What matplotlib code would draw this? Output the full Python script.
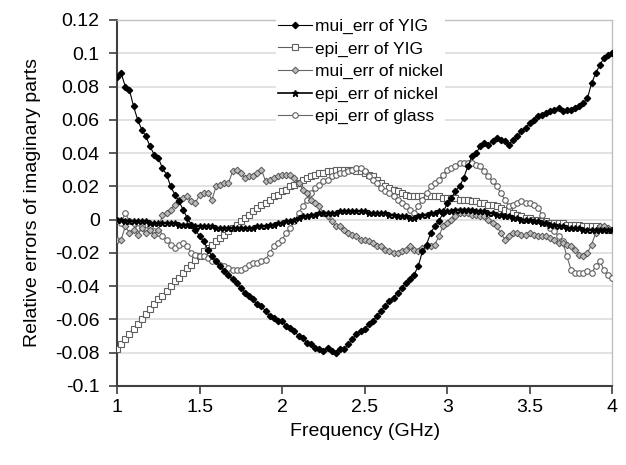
"""Relative errors of imaginary parts vs frequency"""
import numpy as np
import matplotlib
matplotlib.use("Agg")
import matplotlib.pyplot as plt

plt.rcParams['font.family'] = ['Liberation Sans', 'DejaVu Sans']

# frequency samples, 1 to 4 GHz in 0.025 GHz steps
freq = np.round(np.arange(121) * 0.025 + 1.0, 3)

mui_yig = [
    0.086, 0.088, 0.080, 0.078, 0.068, 0.060, 0.054, 0.050, 0.044, 0.039,
    0.037, 0.031, 0.027, 0.020, 0.015, 0.011, 0.006, 0.001, -0.003, -0.006,
    -0.010, -0.013, -0.018, -0.022, -0.025, -0.028, -0.031, -0.033, -0.036, -0.038,
    -0.041, -0.044, -0.046, -0.048, -0.051, -0.052, -0.055, -0.058, -0.059, -0.061,
    -0.061, -0.064, -0.065, -0.067, -0.070, -0.071, -0.074, -0.075, -0.077, -0.078,
    -0.079, -0.077, -0.079, -0.080, -0.078, -0.078, -0.075, -0.072, -0.069, -0.067,
    -0.066, -0.063, -0.061, -0.058, -0.055, -0.052, -0.049, -0.047, -0.044, -0.041,
    -0.038, -0.036, -0.033, -0.028, -0.019, -0.015, -0.008, -0.004, -0.001, 0.004,
    0.010, 0.013, 0.017, 0.020, 0.025, 0.032, 0.038, 0.040, 0.044, 0.046,
    0.045, 0.047, 0.049, 0.048, 0.047, 0.045, 0.048, 0.050, 0.053, 0.055,
    0.058, 0.060, 0.062, 0.063, 0.064, 0.065, 0.066, 0.067, 0.065, 0.066,
    0.066, 0.067, 0.068, 0.070, 0.073, 0.082, 0.088, 0.093, 0.097, 0.099,
    0.100]

epi_yig = [
    -0.078, -0.075, -0.072, -0.069, -0.066, -0.063, -0.060, -0.057, -0.054, -0.051,
    -0.048, -0.046, -0.043, -0.040, -0.037, -0.035, -0.032, -0.029, -0.027, -0.024,
    -0.022, -0.019, -0.017, -0.015, -0.013, -0.011, -0.009, -0.007, -0.005, -0.003,
    -0.001, 0.001, 0.003, 0.005, 0.007, 0.009, 0.010, 0.012, 0.014, 0.015,
    0.017, 0.018, 0.020, 0.021, 0.022, 0.024, 0.025, 0.026, 0.027, 0.028,
    0.028, 0.029, 0.029, 0.030, 0.030, 0.030, 0.030, 0.030, 0.029, 0.029,
    0.028, 0.027, 0.026, 0.024, 0.022, 0.020, 0.019, 0.018, 0.017, 0.016,
    0.015, 0.014, 0.014, 0.014, 0.014, 0.014, 0.014, 0.014, 0.014, 0.013,
    0.013, 0.013, 0.013, 0.012, 0.012, 0.012, 0.011, 0.011, 0.010, 0.010,
    0.009, 0.009, 0.008, 0.007, 0.006, 0.005, 0.004, 0.003, 0.002, 0.001,
    0.001, 0.000, 0.000, -0.001, -0.001, -0.002, -0.002, -0.002, -0.002, -0.003,
    -0.003, -0.003, -0.003, -0.004, -0.004, -0.004, -0.004, -0.005, -0.005, -0.006,
    -0.006]

mui_nickel = [
    -0.012, -0.012, -0.004, -0.008, -0.006, -0.009, -0.005, -0.008, -0.006, -0.009,
    -0.006, 0.003, 0.004, 0.006, 0.009, 0.012, 0.013, 0.014, 0.011, 0.010,
    0.015, 0.016, 0.016, 0.012, 0.020, 0.021, 0.022, 0.022, 0.029, 0.030,
    0.028, 0.025, 0.026, 0.026, 0.028, 0.030, 0.023, 0.024, 0.025, 0.026,
    0.027, 0.027, 0.027, 0.025, 0.022, 0.018, 0.016, 0.012, 0.010, 0.008,
    0.004, 0.002, -0.001, -0.004, -0.004, -0.006, -0.008, -0.009, -0.010, -0.012,
    -0.012, -0.013, -0.014, -0.016, -0.016, -0.018, -0.019, -0.020, -0.020, -0.019,
    -0.018, -0.016, -0.018, -0.019, -0.017, -0.016, -0.016, -0.015, -0.010, -0.004,
    -0.002, 0.000, 0.002, 0.004, 0.004, 0.004, 0.003, 0.003, 0.002, 0.002,
    0.000, -0.002, -0.004, -0.008, -0.012, -0.010, -0.008, -0.008, -0.009, -0.009,
    -0.008, -0.009, -0.010, -0.010, -0.010, -0.011, -0.012, -0.014, -0.014, -0.015,
    -0.016, -0.018, -0.021, -0.022, -0.020, -0.015, -0.008, -0.004, -0.004, -0.005,
    -0.006]

epi_nickel = [
    0.000, 0.000, -0.001, -0.001, -0.001, -0.001, -0.001, -0.001, -0.002, -0.002,
    -0.002, -0.002, -0.002, -0.002, -0.002, -0.003, -0.003, -0.003, -0.003, -0.004,
    -0.004, -0.004, -0.004, -0.004, -0.005, -0.005, -0.005, -0.005, -0.005, -0.005,
    -0.005, -0.005, -0.005, -0.005, -0.004, -0.004, -0.004, -0.003, -0.003, -0.002,
    -0.002, -0.001, -0.001, 0.000, 0.001, 0.002, 0.002, 0.003, 0.003, 0.004,
    0.004, 0.004, 0.004, 0.004, 0.005, 0.005, 0.005, 0.005, 0.005, 0.005,
    0.005, 0.004, 0.004, 0.004, 0.004, 0.004, 0.003, 0.003, 0.002, 0.002,
    0.002, 0.001, 0.001, 0.002, 0.003, 0.003, 0.004, 0.004, 0.005, 0.005,
    0.005, 0.005, 0.006, 0.006, 0.006, 0.006, 0.006, 0.005, 0.005, 0.005,
    0.004, 0.004, 0.003, 0.003, 0.002, 0.002, 0.001, 0.001, 0.000, 0.000,
    0.000, -0.001, -0.001, -0.002, -0.002, -0.003, -0.003, -0.004, -0.004, -0.005,
    -0.005, -0.005, -0.005, -0.006, -0.006, -0.006, -0.006, -0.006, -0.006, -0.006,
    -0.006]

epi_glass = [
    0.000, -0.002, 0.004, -0.001, -0.002, -0.005, -0.004, -0.006, -0.004, -0.007,
    -0.008, -0.010, -0.012, -0.015, -0.017, -0.015, -0.014, -0.016, -0.020, -0.021,
    -0.022, -0.022, -0.023, -0.025, -0.025, -0.027, -0.028, -0.029, -0.030, -0.030,
    -0.030, -0.029, -0.027, -0.026, -0.026, -0.025, -0.024, -0.020, -0.016, -0.014,
    -0.012, -0.008, -0.005, -0.001, 0.004, 0.008, 0.012, 0.016, 0.019, 0.021,
    0.023, 0.024, 0.026, 0.027, 0.028, 0.028, 0.029, 0.030, 0.031, 0.031,
    0.029, 0.026, 0.024, 0.022, 0.019, 0.017, 0.016, 0.014, 0.012, 0.010,
    0.008, 0.006, 0.004, 0.008, 0.012, 0.016, 0.020, 0.022, 0.024, 0.027,
    0.030, 0.031, 0.032, 0.034, 0.034, 0.034, 0.034, 0.033, 0.032, 0.029,
    0.026, 0.023, 0.020, 0.016, 0.012, 0.008, 0.009, 0.010, 0.011, 0.010,
    0.010, 0.009, 0.007, 0.003, -0.002, -0.005, -0.007, -0.010, -0.013, -0.022,
    -0.030, -0.032, -0.032, -0.032, -0.031, -0.032, -0.028, -0.025, -0.030, -0.033,
    -0.035]

labels = ['mui_err of YIG', 'epi_err of YIG', 'mui_err of nickel',
          'epi_err of nickel', 'epi_err of glass']
x_ticks = [1, 1.5, 2, 2.5, 3, 3.5, 4]
x_tick_labels = ['1', '1.5', '2', '2.5', '3', '3.5', '4']
y_ticks = [0.12, 0.1, 0.08, 0.06, 0.04, 0.02, 0, -0.02, -0.04, -0.06, -0.08, -0.1]
y_tick_labels = ['0.12', '0.1', '0.08', '0.06', '0.04', '0.02', '0',
                 '-0.02', '-0.04', '-0.06', '-0.08', '-0.1']

fig = plt.figure(figsize=(6.26, 4.65), dpi=100)
ax = fig.add_axes([0.187, 0.170, 0.791, 0.787])

ax.plot(freq, mui_yig, color='black', lw=0.8, marker='D', ms=3.2,
        mfc='black', mec='black', label=labels[0], zorder=6)
ax.plot(freq, epi_yig, color='#606060', lw=0.8, marker='s', ms=4,
        mfc='white', mec='#606060', mew=0.8, label=labels[1], zorder=3)
ax.plot(freq, mui_nickel, color='#666666', lw=0.8, marker='D', ms=3.4,
        mfc='#bbbbbb', mec='#555555', mew=0.7, label=labels[2], zorder=4)
ax.plot(freq, epi_nickel, color='black', lw=1.2, marker='*', ms=4.5,
        mfc='black', mec='black', label=labels[3], zorder=5)
ax.plot(freq, epi_glass, color='#666666', lw=0.8, marker='o', ms=4,
        mfc='white', mec='#606060', mew=0.8, label=labels[4], zorder=3)

ax.set_xlim(1, 4)
ax.set_ylim(-0.1, 0.12)
ax.set_xticks(x_ticks)
ax.set_xticklabels(x_tick_labels)
ax.set_yticks(y_ticks)
ax.set_yticklabels(y_tick_labels)
ax.tick_params(axis='both', direction='out', length=5.5, width=1.2,
               color='#404040', labelsize=14)
ax.tick_params(axis='y', pad=7)
ax.tick_params(axis='x', pad=4)
ax.yaxis.grid(True, color='#dddddd', lw=1.2)
ax.set_axisbelow(True)

for side in ('left', 'bottom'):
    ax.spines[side].set_color('#404040')
    ax.spines[side].set_linewidth(1.5)
for side in ('top', 'right'):
    ax.spines[side].set_color('#c0c0c0')
    ax.spines[side].set_linewidth(1.0)

ax.set_xlabel('Frequency (GHz)', fontsize=14, labelpad=5)
ax.set_ylabel('Relative errors of imaginary parts', fontsize=14, labelpad=10)

leg = ax.legend(loc='upper left', bbox_to_anchor=(0.321, 1.008), fontsize=12.5,
                frameon=True, facecolor='white', edgecolor='none', framealpha=1,
                fancybox=False, borderpad=0.1, borderaxespad=0,
                handlelength=2.0, handletextpad=0.15, labelspacing=0.42,
                markerscale=1.0)
leg.set_zorder(10)

fig.savefig('out.png', dpi=100)
